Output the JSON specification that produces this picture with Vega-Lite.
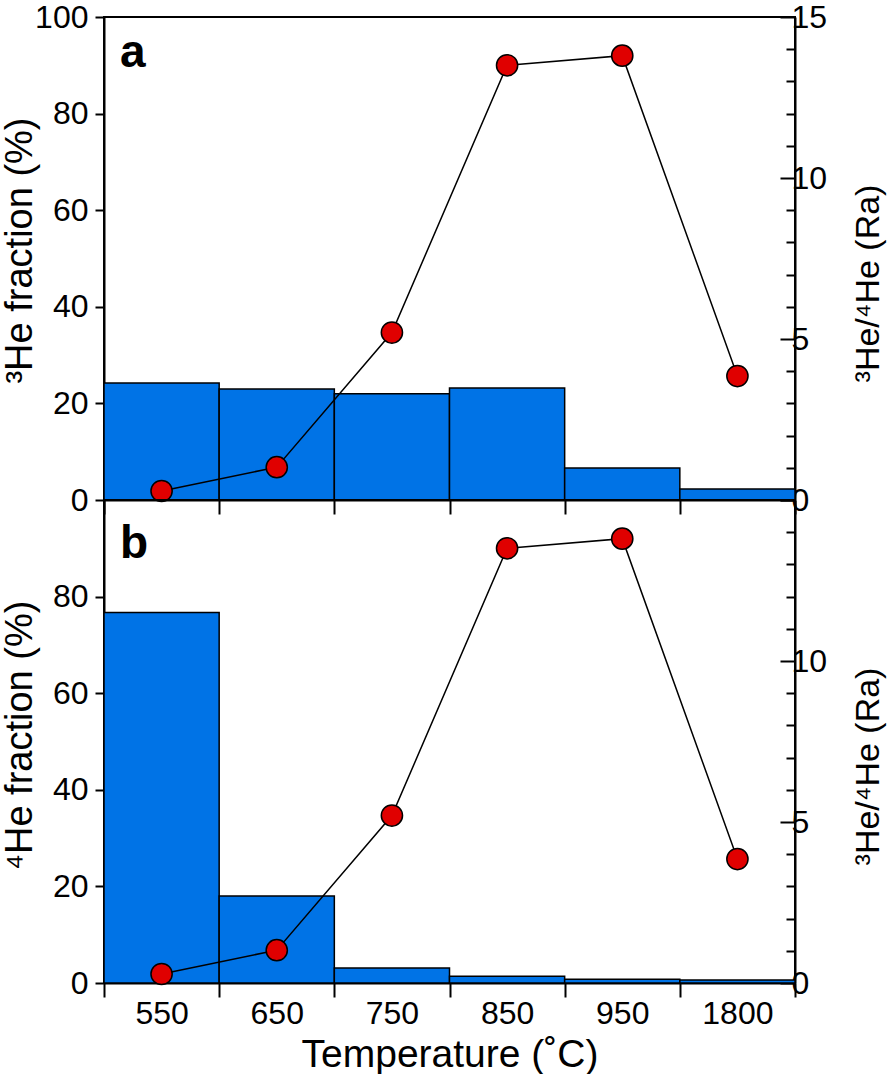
{
  "$schema": "https://vega.github.io/schema/vega-lite/v6.json",
  "padding": {"left": 0, "top": 0, "right": 0, "bottom": 0},
  "background": "white",
  "config": {
    "font": "Liberation Sans",
    "view": {"stroke": "black", "strokeWidth": 2},
    "axis": {
      "domainColor": "black", "domainWidth": 2, "tickColor": "black", "tickWidth": 2,
      "labelColor": "black", "titleColor": "black",
      "labelFont": "Liberation Sans", "titleFont": "Liberation Sans",
      "labelFontSize": 32, "titleFontSize": 38, "titleFontWeight": "normal",
      "grid": false, "labelOverlap": false
    }
  },
  "data": {
    "values": [
      {"T": "550", "he3": 24.2, "he4": 76.7, "ratio": 0.28},
      {"T": "650", "he3": 23.0, "he4": 18.0, "ratio": 1.02},
      {"T": "750", "he3": 22.0, "he4": 3.1, "ratio": 5.2},
      {"T": "850", "he3": 23.2, "he4": 1.4, "ratio": 13.5},
      {"T": "950", "he3": 6.6, "he4": 0.8, "ratio": 13.8},
      {"T": "1800", "he3": 2.3, "he4": 0.6, "ratio": 3.85}
    ]
  },
  "spacing": 0,
  "bounds": "flush",
  "vconcat": [
    {
      "width": 691, "height": 483,
      "title": {"text": "a", "anchor": "start", "frame": "group", "offset": -50, "dx": 16, "dy": 62, "fontSize": 46, "fontWeight": "bold", "baseline": "alphabetic", "color": "black", "font": "Liberation Sans"},
      "encoding": {
        "x": {"field": "T", "type": "nominal", "sort": null,
              "scale": {"paddingInner": 0, "paddingOuter": 0},
              "axis": {"labels": false, "title": null, "tickBand": "extent", "tickSize": 14}}
      },
      "layer": [
        {
          "mark": {"type": "bar", "fill": "#0073E6", "stroke": "black", "strokeWidth": 1.5},
          "encoding": {
            "y": {"field": "he3", "type": "quantitative", "scale": {"domain": [0, 100], "nice": false},
                  "axis": {"values": [0, 20, 40, 60, 80, 100], "tickSize": 9, "labelPadding": 7,
                           "title": "³He fraction (%)", "titlePadding": 3, "titleBaseline": "alphabetic", "titleY": 233}}
          }
        },
        {
          "encoding": {
            "y": {"field": "ratio", "type": "quantitative", "scale": {"domain": [0, 15], "nice": false},
                  "axis": {"orient": "right", "values": [0,1,2,3,4,5,6,7,8,9,10,11,12,13,14,15],
                           "labelExpr": "datum.value % 5 === 0 ? datum.label : ''",
                           "tickSize": {"condition": {"test": "datum.value % 5 === 0", "value": -15}, "value": -9},
                           "labelPadding": 11,
                           "title": "³He/⁴He (Ra)", "titleAngle": -90, "titleBaseline": "alphabetic",
                           "titlePadding": 52, "titleFontSize": 34, "titleY": 266}}
          },
          "layer": [
            {"mark": {"type": "line", "color": "black", "strokeWidth": 1.5}},
            {"mark": {"type": "point", "shape": "circle", "filled": true, "fill": "#E00000", "stroke": "black", "strokeWidth": 1.5, "size": 450, "opacity": 1}}
          ]
        }
      ],
      "resolve": {"scale": {"y": "independent"}}
    },
    {
      "width": 691, "height": 483,
      "title": {"text": "b", "anchor": "start", "frame": "group", "offset": -50, "dx": 16, "dy": 70, "fontSize": 46, "fontWeight": "bold", "baseline": "alphabetic", "color": "black", "font": "Liberation Sans"},
      "encoding": {
        "x": {"field": "T", "type": "nominal", "sort": null,
              "scale": {"paddingInner": 0, "paddingOuter": 0},
              "axis": {"labelAngle": 0, "labelPadding": 1, "title": "Temperature (˚C)", "titlePadding": 6, "titleFontSize": 39, "tickBand": "extent", "tickSize": 14}}
      },
      "layer": [
        {
          "mark": {"type": "bar", "fill": "#0073E6", "stroke": "black", "strokeWidth": 1.5},
          "encoding": {
            "y": {"field": "he4", "type": "quantitative", "scale": {"domain": [0, 100], "nice": false},
                  "axis": {"values": [0, 20, 40, 60, 80], "tickSize": 9, "labelPadding": 7,
                           "title": "⁴He fraction (%)", "titlePadding": 21, "titleBaseline": "alphabetic", "titleY": 235}}
          }
        },
        {
          "encoding": {
            "y": {"field": "ratio", "type": "quantitative", "scale": {"domain": [0, 15], "nice": false},
                  "axis": {"orient": "right", "values": [0,1,2,3,4,5,6,7,8,9,10,11,12,13,14,15],
                           "labelExpr": "datum.value % 5 === 0 && datum.value < 15 ? datum.label : ''",
                           "tickSize": {"condition": {"test": "datum.value % 5 === 0", "value": -15}, "value": -9},
                           "labelPadding": 11,
                           "title": "³He/⁴He (Ra)", "titleAngle": -90, "titleBaseline": "alphabetic",
                           "titlePadding": 52, "titleFontSize": 34, "titleY": 266}}
          },
          "layer": [
            {"mark": {"type": "line", "color": "black", "strokeWidth": 1.5}},
            {"mark": {"type": "point", "shape": "circle", "filled": true, "fill": "#E00000", "stroke": "black", "strokeWidth": 1.5, "size": 450, "opacity": 1}}
          ]
        }
      ],
      "resolve": {"scale": {"y": "independent"}}
    }
  ]
}
